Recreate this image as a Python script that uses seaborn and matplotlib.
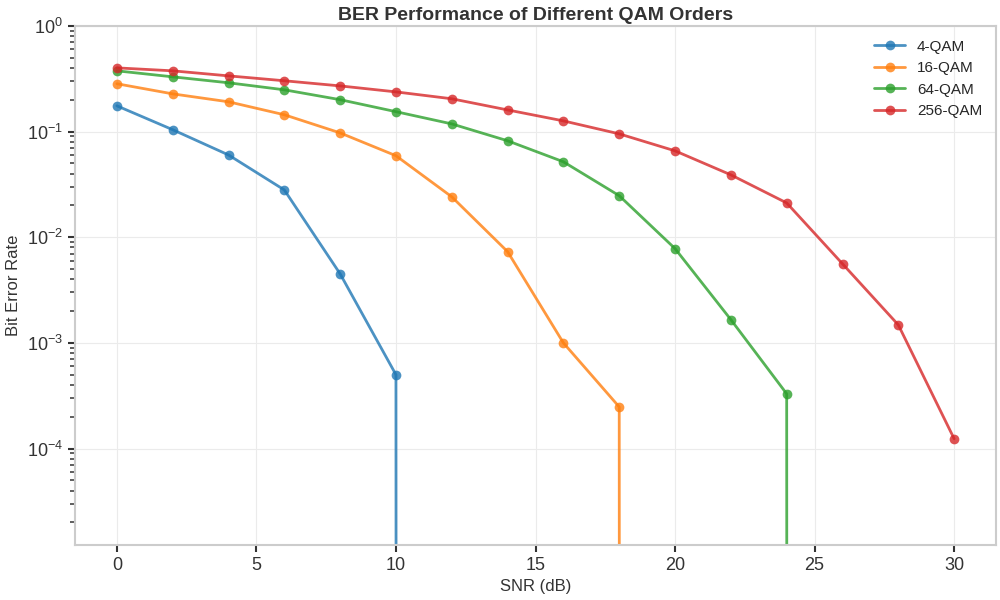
import numpy as np
import pandas as pd
import matplotlib
matplotlib.use("Agg")
import matplotlib.pyplot as plt
import seaborn as sns

# SNR grid and BER readings (0 = no errors, drawn as a drop to the axis)
snr_db = [0, 2, 4, 6, 8, 10, 12, 14, 16, 18, 20, 22, 24, 26, 28, 30]
ber_4qam = [0.175, 0.104, 0.060, 0.028, 0.0045, 5.0e-4, 0, 0, 0, 0, 0, 0, 0, 0, 0, 0]
ber_16qam = [0.283, 0.227, 0.191, 0.144, 0.097, 0.059, 0.0241, 0.0073, 1.0e-3, 2.48e-4,
             0, 0, 0, 0, 0, 0]
ber_64qam = [0.375, 0.329, 0.289, 0.248, 0.200, 0.154, 0.118, 0.0817, 0.0517, 0.0247,
             0.0078, 0.00166, 3.3e-4, 0, 0, 0]
ber_256qam = [0.400, 0.375, 0.336, 0.302, 0.270, 0.237, 0.204, 0.160, 0.126, 0.095,
              0.0656, 0.0389, 0.0211, 0.0056, 0.00148, 1.24e-4]
schemes = ["4-QAM", "16-QAM", "64-QAM", "256-QAM"]

df = pd.DataFrame({
    "SNR": snr_db * 4,
    "BER": ber_4qam + ber_16qam + ber_64qam + ber_256qam,
    "Scheme": np.repeat(schemes, len(snr_db)),
})

sns.set_style("whitegrid")
plt.rcParams["font.family"] = ["Liberation Sans", "DejaVu Sans"]
plt.rcParams.update({
    "xtick.bottom": True, "ytick.left": True,
    "xtick.color": "#333333", "ytick.color": "#333333",
    "xtick.labelcolor": "#333333", "ytick.labelcolor": "#333333",
    "axes.edgecolor": "#cccccc", "axes.linewidth": 1.5,
    "grid.color": "#ebebeb",
})

fig, ax = plt.subplots(figsize=(10, 6), dpi=100)
sns.lineplot(data=df, x="SNR", y="BER", hue="Scheme", hue_order=schemes,
             palette="tab10", marker="o", markersize=7, markeredgewidth=0,
             linewidth=2, alpha=0.8, ax=ax)
ax.set_yscale("log")
ax.set_ylim(1.23e-5, 1)
ax.set_xlim(-1.5, 31.5)
ax.tick_params(axis="both", which="major", labelsize=13, length=5, width=1.5)
ax.tick_params(axis="y", which="minor", length=3.5, width=1.1, color="#333333")
ax.set_xlabel("SNR (dB)", fontsize=12, color="#333333")
ax.set_ylabel("Bit Error Rate", fontsize=12, color="#333333")
ax.set_title("BER Performance of Different QAM Orders", fontsize=14, fontweight="bold",
             color="#333333", pad=4)
ax.legend(title=None, loc="upper right", fontsize=11, frameon=False)

fig.subplots_adjust(left=0.075, right=0.996, top=0.957, bottom=0.092)
fig.savefig("out.png", dpi=100)
